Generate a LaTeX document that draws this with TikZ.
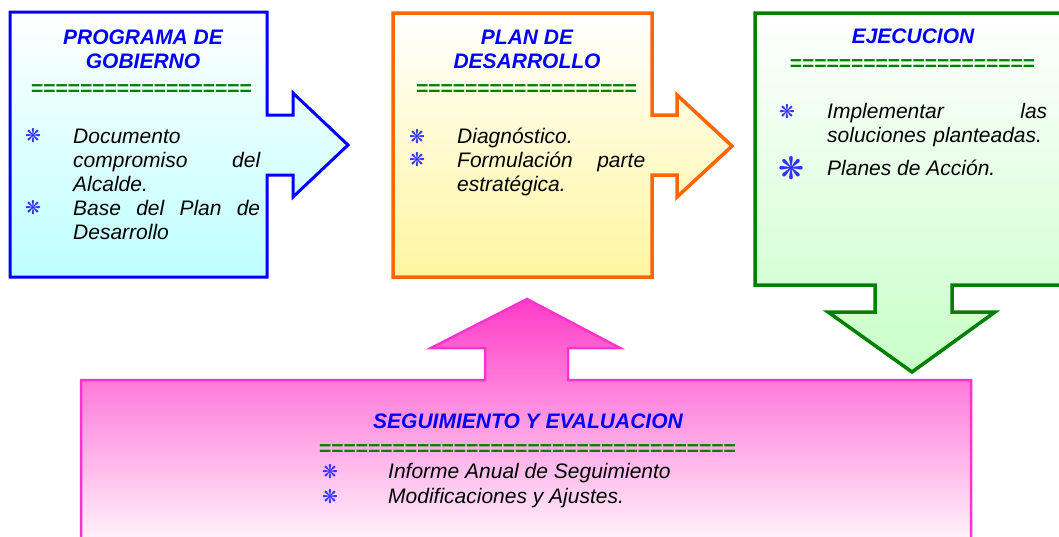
\documentclass[tikz,border=0pt]{standalone}
\usepackage{fontspec}
\setmainfont{Liberation Sans}
\newfontfamily\dingfont{DejaVu Sans}
\usepackage{tikz}
\usetikzlibrary{positioning}

\definecolor{boxblue}{RGB}{0,0,255}
\definecolor{boxorange}{RGB}{255,102,0}
\definecolor{boxgreen}{RGB}{0,128,0}
\definecolor{boxpink}{RGB}{255,51,204}
\definecolor{starblue}{RGB}{51,51,255}
\definecolor{cyanlow}{RGB}{190,255,255}
\definecolor{yellowlow}{RGB}{255,246,160}
\definecolor{greenlow}{RGB}{200,255,200}
\definecolor{pinktop}{RGB}{255,60,200}
\definecolor{pinkmid}{RGB}{255,185,230}
\definecolor{pinklow}{RGB}{255,250,253}

\begin{document}
\begin{tikzpicture}[x=1pt, y=-1pt, line join=miter,
  title/.style={font=\fontsize{21}{24}\selectfont\bfseries\itshape, text=boxblue, align=center, inner sep=0pt, anchor=base},
  eqs/.style={font=\fontsize{21}{24}\selectfont\bfseries, text=boxgreen, inner sep=0pt, anchor=base},
  item/.style={font=\fontsize{21}{24}\selectfont\itshape, inner sep=0pt, anchor=base west, align=left},
  star/.style={font=\dingfont\fontsize{19}{19}\selectfont, text=starblue, inner sep=0pt}]

\clip (0,0) rectangle (1059,536);

% Arrow boxes
\draw[boxblue, line width=3pt, top color=white, bottom color=cyanlow]
  (10,12) -- (267,12) -- (267,115) -- (293,115) -- (293,93) -- (348,145)
  -- (293,197) -- (293,175) -- (267,175) -- (267,277) -- (10,277) -- cycle;
\draw[boxorange, line width=3.5pt, top color=white, bottom color=yellowlow]
  (393,13) -- (652,13) -- (652,115) -- (677,115) -- (677,95) -- (732,146)
  -- (677,197) -- (677,175) -- (652,175) -- (652,277) -- (393,277) -- cycle;
\draw[boxgreen, line width=3.5pt, top color=white, bottom color=greenlow]
  (755,13) -- (1070,13) -- (1070,285) -- (952,285) -- (952,312) -- (995,312)
  -- (912,372) -- (828,312) -- (875,312) -- (875,285) -- (755,285) -- cycle;
\draw[boxpink, line width=2.5pt, top color=pinktop, middle color=pinkmid, bottom color=pinklow]
  (81,380) -- (485,380) -- (485,348) -- (431,348) -- (527,299) -- (620,348)
  -- (568,348) -- (568,380) -- (971,380) -- (971,550) -- (81,550) -- cycle;

% PROGRAMA DE GOBIERNO
\node[title] (gobierno) at (143,68) {PROGRAMA DE\\GOBIERNO};
\node[eqs] (gobierno-eq) at (141.5,95) {==================};
\node[item, text width=187pt] (gobierno-1) at (73,143) {Documento\\compromiso\hfill del\\Alcalde.};
\node[item, text width=187pt] (gobierno-2) at (73,215) {Base\hfill del\hfill Plan\hfill de\\Desarrollo};

% PLAN DE DESARROLLO
\node[title] (plan) at (527,68) {PLAN DE\\DESARROLLO};
\node[eqs] (plan-eq) at (526.5,95) {==================};
\node[item] (plan-1) at (457,143) {Diagnóstico.};
\node[item, text width=188pt] (plan-2) at (457,167) {Formulación\hfill parte\\estratégica.};

% EJECUCION
\node[title] (ejecucion) at (913,43) {EJECUCION};
\node[eqs] (ejecucion-eq) at (912.5,70) {====================};
\node[item, text width=220pt] (ejecucion-1) at (827,118) {Implementar\hfill las\\soluciones planteadas.};
\node[item] (ejecucion-2) at (827,175) {Planes de Acción.};

% SEGUIMIENTO Y EVALUACION
\node[title] (seguimiento) at (528,428) {SEGUIMIENTO Y EVALUACION};
\node[eqs] (seguimiento-eq) at (527.5,455) {==================================};
\node[item] (seguimiento-1) at (388,478) {Informe Anual de Seguimiento};
\node[item] (seguimiento-2) at (388,503) {Modificaciones y Ajustes.};

% bullets
\foreach \x/\y in {33/136, 33/208, 417/137, 417/160, 787/112, 330/472, 330/497}
  \node[star] at (\x,\y) {❋};
\node[star, font=\dingfont\fontsize{31}{31}\selectfont] at (791,168) {❋};

\end{tikzpicture}
\end{document}
